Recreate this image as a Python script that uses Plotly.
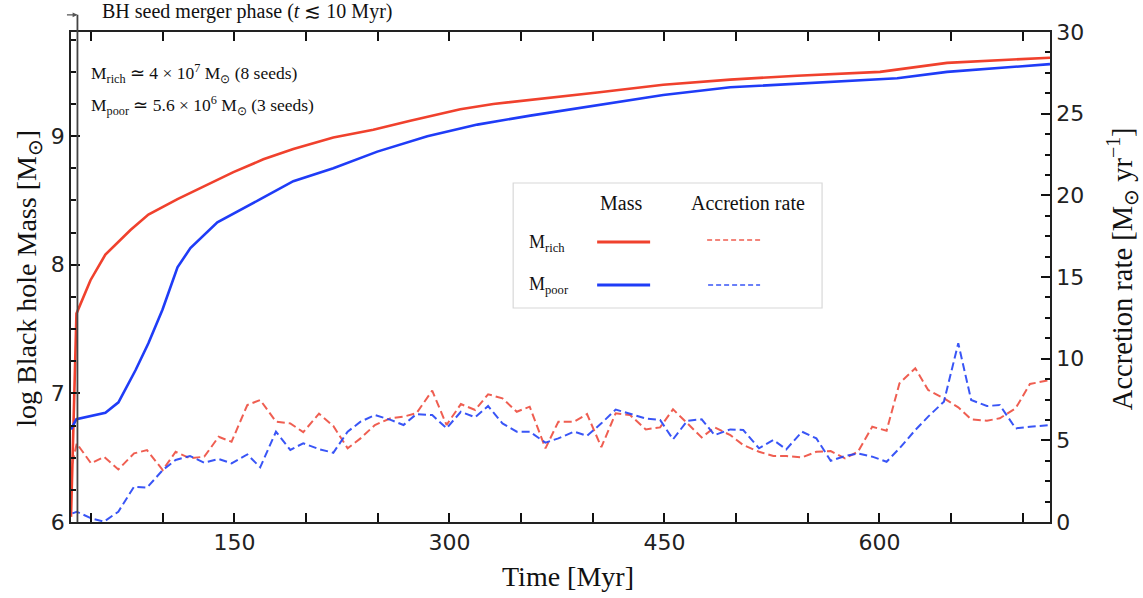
import plotly.graph_objects as go

# ---------------- data ----------------
T_RICH = [36, 39.8, 49.6, 60.0, 77.5, 90.0, 110.3, 128.4, 149.3, 170.2, 191.1, 219.0, 246.9,
          272.7, 307.6, 330.6, 356.4, 403.2, 449.2, 495.9, 542.6, 600.4, 647.2, 719]
M_RICH = [6.04, 7.62, 7.88, 8.08, 8.27, 8.39, 8.51, 8.61, 8.72, 8.82, 8.90, 8.99, 9.05,
          9.12, 9.21, 9.25, 9.28, 9.34, 9.40, 9.44, 9.47, 9.50, 9.57, 9.61]

T_POOR = [36, 39.8, 60.0, 69.1, 81.0, 90.0, 99.8, 110.3, 119.3, 138.1, 168.1, 191.1, 219.0,
          249.7, 284.6, 319.5, 356.4, 403.2, 449.2, 495.9, 542.6, 612.4, 647.2, 719]
M_POOR = [6.72, 6.80, 6.85, 6.93, 7.18, 7.39, 7.65, 7.98, 8.13, 8.33, 8.51, 8.65, 8.75,
          8.88, 9.00, 9.09, 9.16, 9.24, 9.32, 9.38, 9.41, 9.45, 9.50, 9.56]

T_RATE = [37, 40, 50, 59, 69, 80, 89, 100, 109, 119, 129, 139, 148, 159, 168, 179, 189, 198,
          209, 219, 229, 238, 248, 259, 268, 277, 288, 298, 308, 318, 327, 337, 347, 356, 367,
          376, 387, 396, 406, 416, 426, 437, 447, 456, 466, 476, 485, 496, 505, 516, 526, 535,
          546, 556, 566, 576, 585, 595, 605, 614, 625, 634, 645, 655, 664, 675, 684, 695, 705,
          714, 719]
RATE_RICH = [3.6, 4.81, 3.59, 3.99, 3.22, 4.20, 4.40, 3.18, 4.30, 3.90, 4.00, 5.22, 4.91, 7.16,
             7.47, 6.14, 6.04, 5.50, 6.63, 5.88, 4.51, 5.12, 5.94, 6.35, 6.45, 6.66, 8.04, 5.94,
             7.22, 6.86, 7.82, 7.57, 6.75, 7.06, 4.51, 6.14, 6.14, 6.61, 4.58, 6.66, 6.55, 5.67,
             5.79, 6.90, 6.04, 5.18, 5.79, 5.32, 4.71, 4.30, 4.04, 4.04, 3.96, 4.30, 4.34, 3.90,
             4.30, 5.83, 5.59, 8.49, 9.41, 8.08, 7.57, 7.02, 6.29, 6.20, 6.35, 6.96, 8.45, 8.59,
             8.69]
RATE_POOR = [0.53, 0.63, 0.23, 0.02, 0.63, 2.16, 2.10, 3.18, 3.80, 4.04, 3.63, 3.86, 3.59, 4.14,
             3.35, 5.53, 4.41, 4.82, 4.46, 4.24, 5.53, 6.14, 6.55, 6.25, 5.94, 6.61, 6.55, 5.74,
             6.75, 6.41, 7.10, 6.04, 5.53, 5.53, 4.86, 5.12, 5.53, 5.27, 6.04, 6.88, 6.63, 6.33,
             6.25, 5.06, 6.20, 6.29, 5.32, 5.67, 5.63, 4.51, 5.02, 4.45, 5.53, 5.12, 3.75, 4.04,
             4.20, 4.00, 3.69, 4.51, 5.63, 6.45, 7.37, 10.94, 7.47, 7.10, 7.16, 5.73, 5.83, 5.88,
             5.93]

MERGER_END = 40.5
X_RANGE = [36, 719]
Y_RANGE = [6, 9.81]
Y2_RANGE = [0, 30]
X_TICKS = [150, 300, 450, 600]

RED = "#f0412d"
BLUE = "#1f3cf7"
RED_D = "rgba(238,80,66,0.92)"
BLUE_D = "rgba(40,70,245,0.92)"

SERIF = "Liberation Serif, Times New Roman, serif"
SANS = "DejaVu Sans, sans-serif"

fig = go.Figure()
fig.add_trace(go.Scatter(x=T_RATE, y=RATE_RICH, yaxis="y2", mode="lines",
                         line=dict(color=RED_D, width=2, dash="8px,4px"), showlegend=False))
fig.add_trace(go.Scatter(x=T_RATE, y=RATE_POOR, yaxis="y2", mode="lines",
                         line=dict(color=BLUE_D, width=2, dash="8px,4px"), showlegend=False))
fig.add_trace(go.Scatter(x=T_RICH, y=M_RICH, mode="lines",
                         line=dict(color=RED, width=2.6), showlegend=False))
fig.add_trace(go.Scatter(x=T_POOR, y=M_POOR, mode="lines",
                         line=dict(color=BLUE, width=2.6), showlegend=False))

axfont = dict(family=SANS, size=22, color="#222")
fig.update_layout(
    width=1143, height=598,
    margin=dict(l=71, r=93, t=32, b=76),
    paper_bgcolor="white", plot_bgcolor="white",
    xaxis=dict(range=X_RANGE, tickvals=X_TICKS, ticks="inside", ticklen=9, tickwidth=2,
               tickcolor="#111", showline=True, linecolor="#222", linewidth=1.8,
               mirror="allticks", showgrid=False, zeroline=False, tickfont=axfont,
               automargin=False,
               minor=dict(tickvals=[50, 100, 200, 250, 350, 400, 500, 550, 650, 700],
                          ticks="inside", ticklen=5, tickwidth=2, tickcolor="#111")),
    yaxis=dict(range=Y_RANGE, tickvals=[6, 7, 8, 9], ticks="inside", ticklen=9, tickwidth=2,
               tickcolor="#111", showline=True, linecolor="#222", linewidth=1.8,
               showgrid=False, zeroline=False, tickfont=axfont, automargin=False,
               minor=dict(dtick=0.25, tick0=6, ticks="inside", ticklen=5, tickwidth=2,
                          tickcolor="#111")),
    yaxis2=dict(range=Y2_RANGE, overlaying="y", side="right", tickvals=[0, 5, 10, 15, 20, 25, 30],
                ticks="inside", ticklen=9, tickwidth=2, tickcolor="#111", showline=True,
                linecolor="#222", linewidth=1.8, showgrid=False, zeroline=False, tickfont=axfont,
                automargin=False,
                minor=dict(dtick=1.25, tick0=0, ticks="inside", ticklen=5, tickwidth=2,
                           tickcolor="#111")),
)

# merger-phase marker
fig.add_shape(type="line", xref="x", yref="paper", x0=MERGER_END, x1=MERGER_END, y0=0, y1=1.035,
              line=dict(color="#444", width=1.8))

ann = []
ann.append(dict(xref="x", yref="paper", x=MERGER_END, y=1.035, ax=-12, ay=0, axref="pixel",
                ayref="pixel", text="", showarrow=True, arrowhead=2, arrowsize=0.8,
                arrowwidth=1.2, arrowcolor="#555"))
ann.append(dict(xref="paper", yref="paper", x=0.03, y=1.041, xanchor="left", yanchor="middle",
                text="BH seed merger phase (<i>t</i> ≲ 10 Myr)", showarrow=False,
                font=dict(family=SERIF, size=20, color="#111")))
ann.append(dict(xref="paper", yref="paper", x=0.0187, y=0.916, xanchor="left", yanchor="middle",
                text="M<sub>rich</sub> ≃ 4 × 10<sup>7</sup> M<sub>⊙</sub> (8 seeds)", showarrow=False,
                font=dict(family=SERIF, size=17.5, color="#111")))
ann.append(dict(xref="paper", yref="paper", x=0.0187, y=0.849, xanchor="left", yanchor="middle",
                text="M<sub>poor</sub> ≃ 5.6 × 10<sup>6</sup> M<sub>⊙</sub> (3 seeds)", showarrow=False,
                font=dict(family=SERIF, size=17.5, color="#111")))
# axis titles
ann.append(dict(xref="paper", yref="paper", x=0.508, y=-0.112, xanchor="center", yanchor="middle",
                text="Time [Myr]", showarrow=False, font=dict(family=SERIF, size=28, color="#111")))
ann.append(dict(xref="paper", yref="paper", x=-0.0436, y=0.497, xanchor="center", yanchor="middle",
                textangle=-90, text="log Black hole Mass [M<sub>⊙</sub>]", showarrow=False,
                font=dict(family=SERIF, size=28, color="#111")))
ann.append(dict(xref="paper", yref="paper", x=1.0735, y=0.518, xanchor="center", yanchor="middle",
                textangle=-90, text="Accretion rate [M<sub>⊙</sub> yr<sup>−1</sup>]", showarrow=False,
                font=dict(family=SERIF, size=28.5, color="#111")))

# custom legend
def px(x):
    return (x - 70.7) / 979.3

def py(y):
    return (522 - y) / 490

fig.add_shape(type="rect", xref="paper", yref="paper", x0=px(513), x1=px(822), y0=py(308), y1=py(183),
              line=dict(color="#d8d8d8", width=1.2), fillcolor="rgba(255,255,255,0.9)")
ann.append(dict(xref="paper", yref="paper", x=px(621), y=py(203), xanchor="center", yanchor="middle",
                text="Mass", showarrow=False, font=dict(family=SERIF, size=20, color="#111")))
ann.append(dict(xref="paper", yref="paper", x=px(748), y=py(203), xanchor="center", yanchor="middle",
                text="Accretion rate", showarrow=False, font=dict(family=SERIF, size=20, color="#111")))
ann.append(dict(xref="paper", yref="paper", x=px(527), y=py(244), xanchor="left", yanchor="middle",
                text="M<sub>rich</sub>", showarrow=False, font=dict(family=SERIF, size=18, color="#111")))
ann.append(dict(xref="paper", yref="paper", x=px(527), y=py(285), xanchor="left", yanchor="middle",
                text="M<sub>poor</sub>", showarrow=False, font=dict(family=SERIF, size=18, color="#111")))
for (x0, x1, yy, col, dash, w) in [(597, 650, 242, RED, "solid", 3), (597, 650, 285, BLUE, "solid", 3),
                                    (707, 760, 240, RED_D, "5px,3px", 1.7), (708, 760, 285, BLUE_D, "5px,3px", 1.7)]:
    fig.add_shape(type="line", xref="paper", yref="paper", x0=px(x0), x1=px(x1), y0=py(yy), y1=py(yy),
                  line=dict(color=col, width=w, dash=dash))

fig.update_layout(annotations=ann)
fig.write_html("out.html", config={"displayModeBar": False},
               post_script="document.body.style.margin='0';")
